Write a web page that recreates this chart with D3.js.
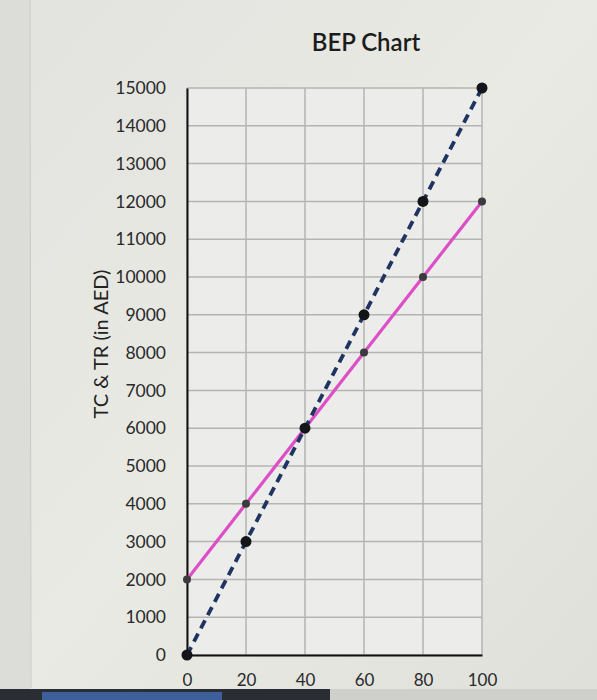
<!DOCTYPE html>
<html>
<head>
<meta charset="utf-8">
<script src="https://cdn.jsdelivr.net/npm/d3@7/dist/d3.min.js"></script>
<style>
  html, body { margin: 0; padding: 0; background: #e4e5df; }
  svg { display: block; }
</style>
</head>
<body>
<svg id="chart" width="597" height="700"></svg>
<script>
const units = [0, 20, 40, 60, 80, 100];
const totalRevenue = [0, 3000, 6000, 9000, 12000, 15000];
const totalCost = [2000, 4000, 6000, 8000, 10000, 12000];
const yTicks = [0,1000,2000,3000,4000,5000,6000,7000,8000,9000,10000,11000,12000,13000,14000,15000];
const xTicks = [0, 20, 40, 60, 80, 100];
const title = "BEP Chart";
const yTitle = "TC & TR (in AED)";

const svg = d3.select("#chart");
const W = 597, H = 700;
const fontFam = "Lato, 'Open Sans', 'Liberation Sans', sans-serif";

// photo background
const defs = svg.append("defs");
const grad = defs.append("linearGradient").attr("id","bg").attr("x1","0").attr("y1","0").attr("x2","1").attr("y2","1");
grad.append("stop").attr("offset","0").attr("stop-color","#e2e3de");
grad.append("stop").attr("offset","0.5").attr("stop-color","#e9eae4");
grad.append("stop").attr("offset","1").attr("stop-color","#dfe0da");
svg.append("rect").attr("width",W).attr("height",H).attr("fill","url(#bg)");
svg.append("rect").attr("x",0).attr("y",0).attr("width",30).attr("height",H).attr("fill","#dcdcd8");
svg.append("line").attr("x1",30).attr("x2",31).attr("y1",0).attr("y2",688).attr("stroke","#c8c8c4").attr("stroke-width",1);
svg.append("rect").attr("x",0).attr("y",689).attr("width",W).attr("height",11).attr("fill","#2a2d33");
svg.append("rect").attr("x",42).attr("y",692).attr("width",180).attr("height",8).attr("fill","#3d5f9a");
svg.append("rect").attr("x",330).attr("y",689).attr("width",267).attr("height",11).attr("fill","#cfd0cc");

const m = {left: 187, right: 482, top: 88, bottom: 655};
const x = d3.scaleLinear().domain([0, 100]).range([m.left, m.right]);
const y = d3.scaleLinear().domain([0, 15000]).range([m.bottom, m.top]);

// plot area
svg.append("rect").attr("x",m.left).attr("y",m.top).attr("width",m.right-m.left).attr("height",m.bottom-m.top).attr("fill","#ecedea");

// gridlines
const grid = svg.append("g");
grid.selectAll("line.h").data(yTicks).join("line")
  .attr("x1", m.left).attr("x2", m.right)
  .attr("y1", d => y(d)).attr("y2", d => y(d))
  .attr("stroke", "#b4b5b3").attr("stroke-width", 1.5);
grid.selectAll("line.v").data(xTicks).join("line")
  .attr("y1", m.top).attr("y2", m.bottom)
  .attr("x1", d => x(d)).attr("x2", d => x(d))
  .attr("stroke", "#b4b5b3").attr("stroke-width", 1.5);

// axes
const yAxis = d3.axisLeft(y).tickValues(yTicks).tickSize(0).tickPadding(21).tickFormat(d3.format("d"));
const gy = svg.append("g").attr("transform", `translate(${m.left},0)`).call(yAxis);
gy.select(".domain").attr("stroke", "#111").attr("stroke-width", 2);
gy.selectAll("text").attr("font-family", fontFam).attr("font-size", 17.5).attr("fill", "#2a2a2a");

const xAxis = d3.axisBottom(x).tickValues(xTicks).tickSize(0).tickPadding(19);
const gx = svg.append("g").attr("transform", `translate(0,${m.bottom})`).call(xAxis);
gx.select(".domain").attr("stroke", "#111").attr("stroke-width", 2);
gx.selectAll("text").attr("font-family", fontFam).attr("font-size", 17).attr("fill", "#2a2a2a");

// lines
const tcData = units.map((u,i) => ({u, v: totalCost[i]}));
const trData = units.map((u,i) => ({u, v: totalRevenue[i]}));
const line = d3.line().x(d => x(d.u)).y(d => y(d.v));

svg.append("path").datum(tcData).attr("d", line)
  .attr("fill","none").attr("stroke","#dc4fc6").attr("stroke-width",3.2);
svg.append("path").datum(trData).attr("d", line)
  .attr("fill","none").attr("stroke","#1f3461").attr("stroke-width",3.8)
  .attr("stroke-dasharray","9,6");

svg.append("g").selectAll("circle").data(tcData).join("circle")
  .attr("cx", d => x(d.u)).attr("cy", d => y(d.v)).attr("r", 4)
  .attr("fill", "#3a3b3d");
svg.append("g").selectAll("circle").data(trData).join("circle")
  .attr("cx", d => x(d.u)).attr("cy", d => y(d.v)).attr("r", 5.5)
  .attr("fill", "#141518");

// titles
svg.append("text").attr("x", 366).attr("y", 51).attr("text-anchor","middle")
  .attr("font-family", fontFam).attr("font-size", 24).attr("font-weight", 600)
  .attr("fill", "#1c1c1c").text(title);

svg.append("text").attr("transform", "translate(108,344) rotate(-90)")
  .attr("text-anchor","middle").attr("font-family", fontFam).attr("font-size", 20)
  .attr("fill", "#222").text(yTitle);
</script>
</body>
</html>
